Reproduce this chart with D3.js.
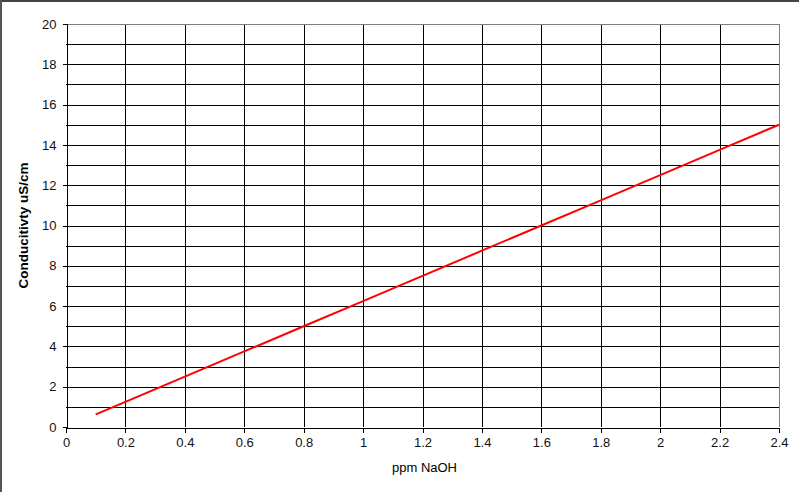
<!DOCTYPE html>
<html><head><meta charset="utf-8">
<script src="https://cdn.jsdelivr.net/npm/d3@7"></script>
<style>body{margin:0;background:#fff;}svg{display:block;font-family:"Liberation Sans",Arial,sans-serif;}</style>
</head><body><svg id="c" width="799" height="492"></svg>
<script>
const ppm = [0.1, 0.2, 0.4, 0.6, 0.8, 1.0, 1.2, 1.4, 1.6, 1.8, 2.0, 2.2, 2.4];
const conductivity = [0.625, 1.25, 2.5, 3.75, 5.0, 6.25, 7.5, 8.75, 10.0, 11.25, 12.5, 13.75, 15.0];
const xTicks = [0, 0.2, 0.4, 0.6, 0.8, 1, 1.2, 1.4, 1.6, 1.8, 2, 2.2, 2.4];
const yTicks = [0, 2, 4, 6, 8, 10, 12, 14, 16, 18, 20];
const yMinor = d3.range(0, 21, 1);
const xTitle = "ppm NaOH";
const yTitle = "Conducitivty uS/cm";

const svg = d3.select("#c");
const L = 66, R = 779, T = 24, B = 427;
const x = d3.scaleLinear().domain([0, 2.4]).range([L, R]);
const y = d3.scaleLinear().domain([0, 20]).range([B, T]);

// window border
svg.append("rect").attr("x",0).attr("y",0).attr("width",799).attr("height",2).attr("fill","#444");
svg.append("rect").attr("x",0).attr("y",0).attr("width",2).attr("height",492).attr("fill","#555");

const g = svg.append("g").attr("shape-rendering","crispEdges");
g.selectAll(".hg").data(yMinor.filter(d=>d>0 && d<20)).enter().append("line")
  .attr("x1",L).attr("x2",R).attr("y1",d=>Math.round(y(d))+0.5).attr("y2",d=>Math.round(y(d))+0.5)
  .attr("stroke","#000");
g.selectAll(".vg").data(xTicks.filter(d=>d>0 && d<2.4)).enter().append("line")
  .attr("y1",T).attr("y2",B).attr("x1",d=>Math.round(x(d))+0.5).attr("x2",d=>Math.round(x(d))+0.5)
  .attr("stroke","#000");
g.append("line").attr("x1",L).attr("x2",R+0.5).attr("y1",T+0.5).attr("y2",T+0.5).attr("stroke","#808080");
g.append("line").attr("x1",R+0.5).attr("x2",R+0.5).attr("y1",T).attr("y2",B).attr("stroke","#808080");

const xAxis = d3.axisBottom(x).tickValues(xTicks).tickFormat(d3.format("~g")).tickSizeOuter(0).tickSize(5).tickPadding(5);
const yAxis = d3.axisLeft(y).tickValues(yTicks).tickFormat(d3.format("~g")).tickSizeOuter(0).tickSize(4).tickPadding(6);
const xa = svg.append("g").attr("transform",`translate(0,${B+0.5})`).call(xAxis);
const ya = svg.append("g").attr("transform",`translate(${L+0.5},0)`).call(yAxis);
[xa, ya].forEach(a=>{
  a.attr("shape-rendering","crispEdges");
  a.select(".domain").attr("stroke","#000");
  a.selectAll(".tick line").attr("stroke","#000");
  a.selectAll("text").attr("font-size","13px").attr("fill","#111").attr("font-family","'Liberation Sans',Arial,sans-serif");
});

const line = d3.line().x((d,i)=>x(ppm[i])).y(d=>y(d));
svg.append("path").datum(conductivity).attr("d",line).attr("fill","none")
  .attr("stroke","#ff0000").attr("stroke-width",2);

svg.append("text").attr("x",(L+R)/2 + 2).attr("y",472).attr("text-anchor","middle")
  .attr("font-size","13px").attr("fill","#000").text(xTitle);
svg.append("text").attr("transform",`translate(28,${(T+B)/2}) rotate(-90)`).attr("text-anchor","middle")
  .attr("font-size","13.5px").attr("font-weight","bold").attr("fill","#000").text(yTitle);
</script></body></html>
